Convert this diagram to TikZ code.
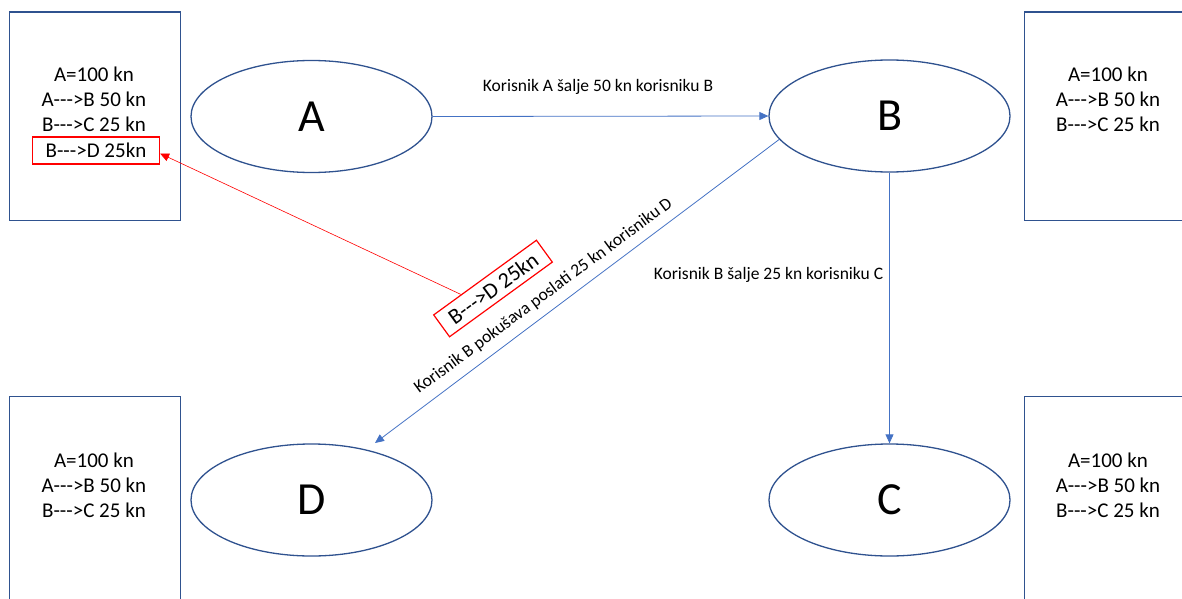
\documentclass[tikz,border=0pt]{standalone}
\usepackage{fontspec}
\setmainfont{Carlito}
\usetikzlibrary{shapes.geometric,arrows.meta,calc}
\definecolor{edgec}{RGB}{47,82,143}
\definecolor{connc}{RGB}{68,114,196}
\definecolor{redc}{RGB}{255,0,0}
\newcommand{\darr}{-{}-{}->}
\begin{document}
\begin{tikzpicture}[x=1pt,y=-1pt,
  ell/.style={ellipse,draw=edgec,line width=1.3pt,minimum width=241pt,minimum height=112pt,inner sep=0pt,font=\fontsize{46}{50}\selectfont},
  ledger/.style={draw=edgec,line width=1.3pt,minimum width=171pt,minimum height=208pt,inner sep=0pt,anchor=north west},
  ltxt/.style={font=\fontsize{21}{24}\selectfont,anchor=base,inner sep=0pt},
  connarrow/.style={draw=connc,line width=0.8pt,-{Triangle[length=9pt,width=8pt]}},
  lab/.style={font=\fontsize{17.5}{20}\selectfont,inner sep=0pt},
  flag/.style={draw=redc,line width=1.2pt,minimum width=127pt,minimum height=27pt,inner sep=0pt,font=\fontsize{21}{24}\selectfont}
]
\useasboundingbox (0,0) rectangle (1182,599);
\clip (0,0) rectangle (1182,599);

% ledger boxes
\node[ledger] (L1) at (8.5,11.5) {};
\node[ledger] (L2) at (1023.5,11.5) {};
\node[ledger] (L3) at (8.5,396) {};
\node[ledger] (L4) at (1023.5,396) {};

% ledger texts
\node[ltxt] (t1a) at (94,81.5) {A=100 kn};
\node[ltxt] (t1b) at (94,106.5) {A\darr B 50 kn};
\node[ltxt] (t1c) at (94,131.5) {B\darr C 25 kn};
\node[flag] (f1) at (96,150.5) {B\darr D 25kn};

\node[ltxt] (t2a) at (1108,81.5) {A=100 kn};
\node[ltxt] (t2b) at (1108,106.5) {A\darr B 50 kn};
\node[ltxt] (t2c) at (1108,131.5) {B\darr C 25 kn};

\node[ltxt] (t3a) at (94,467.5) {A=100 kn};
\node[ltxt] (t3b) at (94,492.5) {A\darr B 50 kn};
\node[ltxt] (t3c) at (94,517) {B\darr C 25 kn};

\node[ltxt] (t4a) at (1108,467.5) {A=100 kn};
\node[ltxt] (t4b) at (1108,492.5) {A\darr B 50 kn};
\node[ltxt] (t4c) at (1108,517) {B\darr C 25 kn};

% users
\node[ell] (A) at (311.5,116.5) {A};
\node[ell] (B) at (889.5,116) {B};
\node[ell] (D) at (311.5,500) {D};
\node[ell] (C) at (889.5,500) {C};

% connectors
\draw[connarrow] (A.east) -- (B.west);
\draw[connarrow] (B.south) -- (C.north);
\coordinate (dtip) at (375,443);
\draw[connarrow] (B.192) -- (dtip);

% labels
\node[lab] (l1) at (598,87) {Korisnik A šalje 50 kn korisniku B};
\node[lab] (l2) at (768.5,275) {Korisnik B šalje 25 kn korisniku C};
\node[lab,rotate=36.5] (l3) at (543.5,296) {Korisnik B pokušava poslati 25 kn korisniku D};

% red flagged transaction
\node[flag,rotate=36,font=\fontsize{22}{24}\selectfont] (f2) at (493,288.5) {B\darr D 25kn};
\draw[redc,line width=0.6pt,-{Triangle[length=9pt,width=8pt]}] ($(f2.north west)!0.27!(f2.north east)$) -- ([yshift=-3pt]f1.east);
\end{tikzpicture}
\end{document}
